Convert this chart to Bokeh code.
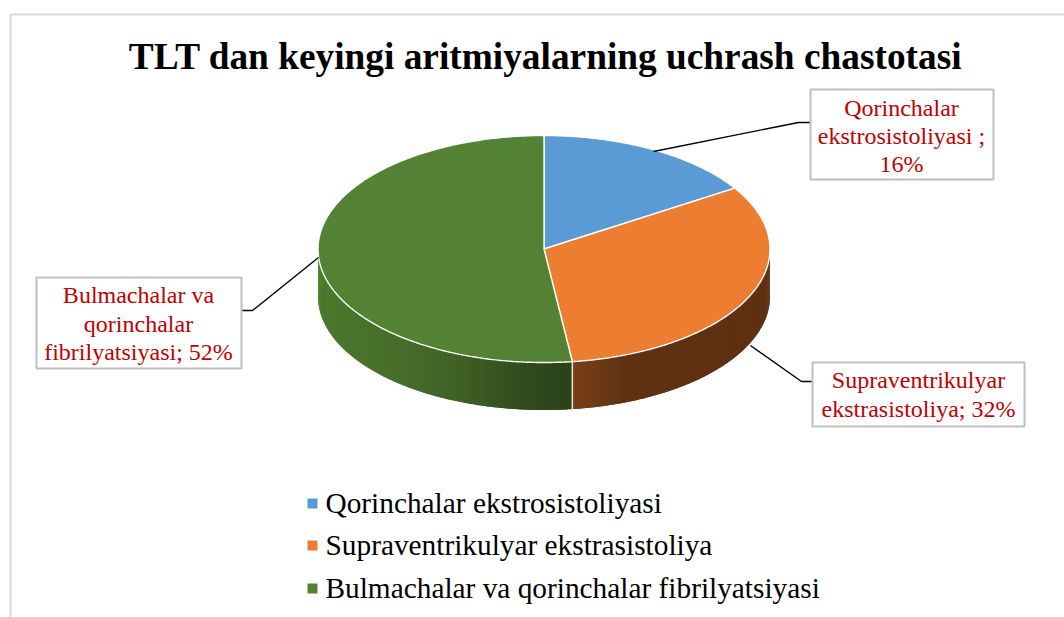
import math
from bokeh.plotting import figure
from bokeh.models import Range1d
from bokeh.core.properties import value
from bokeh.embed import file_html
from bokeh.resources import INLINE

title_text = "TLT dan keyingi aritmiyalarning uchrash chastotasi"
categories = ["Qorinchalar ekstrosistoliyasi", "Supraventrikulyar ekstrasistoliya",
              "Bulmachalar va qorinchalar fibrilyatsiyasi"]
shares = [16, 32, 52]
top_colors = ["#5B9BD5", "#ED7D31", "#548235"]
label_lines = [["Qorinchalar", "ekstrosistoliyasi ;", "16%"],
               ["Supraventrikulyar", "ekstrasistoliya; 32%"],
               ["Bulmachalar va", "qorinchalar", "fibrilyatsiyasi; 52%"]]

# layout (page pixels)
WIDTH, HEIGHT = 1064, 617
CX, CY, RX, RY, DEPTH = 543.5, 248.5, 226, 113.5, 47.5
SERIF = value("Liberation Serif")
RED = "#C00000"
boxes = [(810, 89, 993, 179), (812, 362, 1024, 426), (36, 277, 241, 368)]
text_cx = [901, 918, 138]
baselines = [[107, 135, 163], [379, 408], [294, 323, 351]]
leaders = [[(653, 151), (798, 122), (810, 122)],
           [(750, 345), (801, 381), (812, 381)],
           [(318, 257), (252, 310), (241, 310)]]
legend_y = [503, 545, 588]
legend_text_y = [502, 544, 587]
side_stops = {1: [(90, "#5F3112"), (158, "#5F3112"), (172.8, "#7A4019")],
              2: [(172.8, "#2A4219"), (183, "#2F4A1C"), (200, "#3F5F26"),
                  (220, "#476F2B"), (270, "#4E7D2E")]}


def hex2rgb(h):
    return [int(h[i:i + 2], 16) for i in (1, 3, 5)]


def mix(a, b, f):
    ra, rb = hex2rgb(a), hex2rgb(b)
    return "#%02x%02x%02x" % tuple(round(x + (y - x) * f) for x, y in zip(ra, rb))


def ramp(stops, t):
    for (t0, c0), (t1, c1) in zip(stops, stops[1:]):
        if t <= t1:
            return mix(c0, c1, max(0.0, (t - t0) / (t1 - t0)))
    return stops[-1][1]


def pt(deg):
    r = math.radians(deg)
    return CX + RX * math.sin(r), CY - RY * math.cos(r)


p = figure(width=WIDTH, height=HEIGHT, output_backend="svg", toolbar_location=None,
           x_range=Range1d(0, WIDTH), y_range=Range1d(HEIGHT, 0),
           min_border=0, outline_line_color=None, background_fill_color="white",
           border_fill_color="white")
p.xaxis.visible = False
p.yaxis.visible = False
p.grid.visible = False

# chart frame
p.line([10, 10], [617, 14], line_color="#D9D9D9", line_width=2)
p.line([10, 1064], [14, 14], line_color="#D9D9D9", line_width=2)

# slice angles from shares
total = sum(shares)
starts, acc = [], 0
for s in shares:
    starts.append(acc / total * 360)
    acc += s
ends = starts[1:] + [360]

# side wall: overlapping quads, so no seams appear between the steps
for i in (1, 2):
    a0, a1 = max(starts[i], 90), min(ends[i], 270)
    n = int(a1 - a0)
    xs, ys, cs = [], [], []
    for k in range(n):
        t0 = a0 + (a1 - a0) * k / n
        t1 = a0 + (a1 - a0) * min(k + 2, n) / n
        m = 6
        upper = [pt(t0 + (t1 - t0) * j / m) for j in range(m + 1)]
        xs.append([q[0] for q in upper] + [q[0] for q in reversed(upper)])
        ys.append([q[1] for q in upper] + [q[1] + DEPTH for q in reversed(upper)])
        cs.append(ramp(side_stops[i], t0))
    p.patches(xs, ys, fill_color=cs, line_color=None)

# divider on the wall
dx, dy = pt(starts[2])
p.line([dx, dx], [dy, dy + DEPTH], line_color="#E8E4DC", line_width=1.5)

# top face
for i in range(3):
    n = int((ends[i] - starts[i]) * 2)
    ang = [starts[i] + (ends[i] - starts[i]) * k / n for k in range(n + 1)]
    pts = [pt(a) for a in ang]
    p.patch([CX] + [q[0] for q in pts], [CY] + [q[1] for q in pts],
            fill_color=top_colors[i], line_color="#FFFFFF", line_width=1.4)

# leaders
for pts in leaders:
    p.line([q[0] for q in pts], [q[1] for q in pts], line_color="#000000", line_width=1.4)

# data label boxes
for (x0, y0, x1, y1) in boxes:
    p.quad(left=x0, right=x1, top=y0, bottom=y1, fill_color="#FFFFFF",
           line_color="#BFBFBF", line_width=2)
for lines, cx, ys in zip(label_lines, text_cx, baselines):
    p.text([cx] * len(lines), ys, text=lines, text_font=SERIF, text_font_size="24px",
           text_color=RED, text_align="center", text_baseline="alphabetic")

# title
p.text([545], [56], text=[title_text], text_font=SERIF, text_font_size="37.33px",
       text_font_style="bold", text_color="#000000", text_align="center",
       text_baseline="alphabetic")

# legend
p.scatter([312] * 3, legend_y, marker="square", size=10, fill_color=top_colors, line_color=None)
p.text([325] * 3, legend_text_y, text=categories, text_font=SERIF,
       text_font_size="29.33px", text_color="#000000", text_align="left",
       text_baseline="alphabetic")

open("out.html", "w").write(file_html(p, INLINE))
